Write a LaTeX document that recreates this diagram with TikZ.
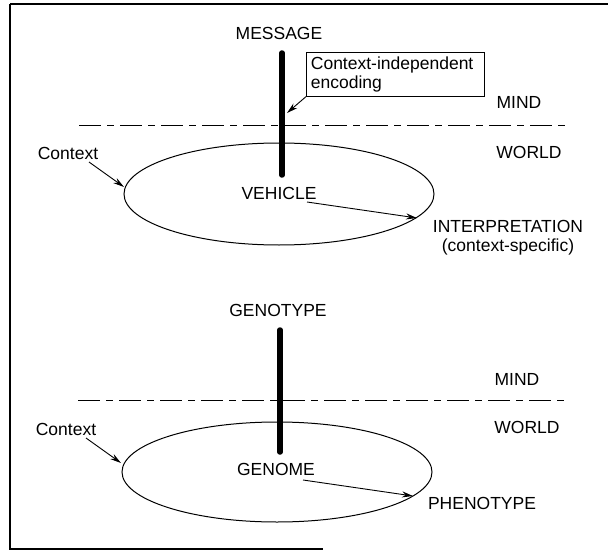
\documentclass[tikz,border=0pt]{standalone}
\usepackage{fontspec}
\setmainfont{Liberation Sans}
\usetikzlibrary{arrows.meta,shapes.geometric}
\begin{document}
\begin{tikzpicture}[x=1pt,y=-1pt,
  lbl/.style={inner sep=0pt,font=\fontsize{17.5}{19}\selectfont},
  bar/.style={line width=5.5pt,line cap=round},
  frameline/.style={line width=1.2pt},
  divider/.style={line width=1pt,dash pattern=on 22pt off 6pt on 7pt off 6pt},
  oval/.style={draw,ellipse,line width=1pt,inner sep=0pt},
  arr/.style={line width=0.9pt,-{Stealth[length=11pt,width=6pt]}},
  callout/.style={draw,line width=0.8pt,inner sep=4.5pt,text width=169pt,align=left,anchor=north west,font=\fontsize{17.5}{18.5}\selectfont}]
\useasboundingbox (0,0) rectangle (608,551);
% frame
\draw[frameline] (10,4) -- (608,4);
\draw[frameline] (10,4) -- (10,549) -- (323,549);

% ---------- upper diagram ----------
\node[oval,minimum width=310pt,minimum height=102pt] (e1) at (279,194) {};
\node[lbl] (msg) at (279,33) {MESSAGE};
\coordinate (b1top) at (282,53);
\coordinate (b1bot) at (282,175);
\draw[bar] (b1top) -- (b1bot);
\node[callout] (box) at (306,52) {Context-independent\\encoding};
\coordinate (boxtip) at (287,113);
\draw[arr] (box.south west) -- (boxtip);
\node[lbl] (mind1) at (519,102) {MIND};
\coordinate (d1a) at (79,125);
\coordinate (d1b) at (568,125);
\draw[divider] (d1a) -- (d1b);
\node[lbl] (world1) at (529,152) {WORLD};
\node[lbl] (ctx1) at (68,153) {Context};
\coordinate (ctx1s) at (89,162);
\coordinate (ctx1t) at (124,187);
\draw[arr] (ctx1s) -- (ctx1t);
\node[lbl] (veh) at (279,193) {VEHICLE};
\coordinate (veh1s) at (307,202);
\coordinate (veh1t) at (417,218);
\draw[arr] (veh1s) -- (veh1t);
\node[lbl,align=center] (interp) at (508,238) {INTERPRETATION\\(context-specific)};

% ---------- lower diagram ----------
\node[oval,minimum width=310pt,minimum height=100pt] (e2) at (277,472) {};
\node[lbl] (geno) at (278,310) {GENOTYPE};
\coordinate (b2top) at (280,330);
\coordinate (b2bot) at (280,452);
\draw[bar] (b2top) -- (b2bot);
\node[lbl] (mind2) at (517,379) {MIND};
\coordinate (d2a) at (78,400);
\coordinate (d2b) at (566,400);
\draw[divider] (d2a) -- (d2b);
\node[lbl] (world2) at (527,427) {WORLD};
\node[lbl] (ctx2) at (66,429) {Context};
\coordinate (ctx2s) at (86,438);
\coordinate (ctx2t) at (121,463);
\draw[arr] (ctx2s) -- (ctx2t);
\node[lbl] (genome) at (276,469) {GENOME};
\coordinate (gen2s) at (303,480);
\coordinate (gen2t) at (413,496);
\draw[arr] (gen2s) -- (gen2t);
\node[lbl] (pheno) at (482,503) {PHENOTYPE};
\end{tikzpicture}
\end{document}
